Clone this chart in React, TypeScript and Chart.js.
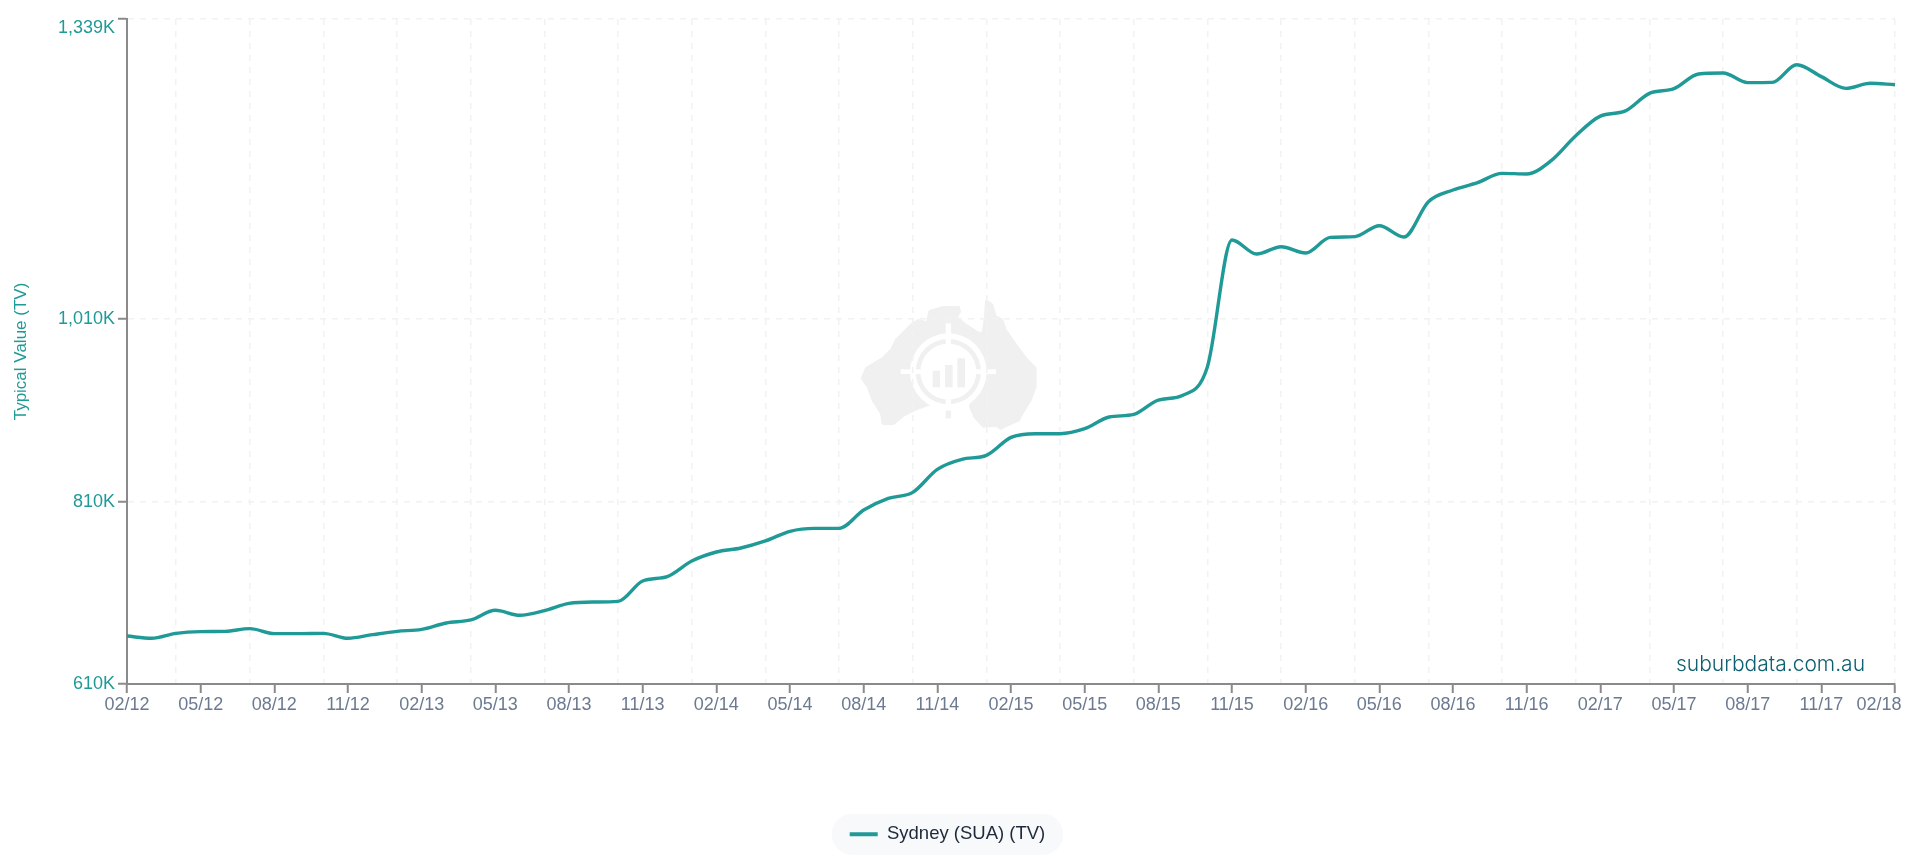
import React, { useEffect, useRef } from "react";
import { Chart, registerables } from "chart.js";

Chart.register(...registerables);

const months = [
  "02/12","03/12","04/12","05/12","06/12","07/12","08/12","09/12","10/12","11/12","12/12","01/13",
  "02/13","03/13","04/13","05/13","06/13","07/13","08/13","09/13","10/13","11/13","12/13","01/14",
  "02/14","03/14","04/14","05/14","06/14","07/14","08/14","09/14","10/14","11/14","12/14","01/15",
  "02/15","03/15","04/15","05/15","06/15","07/15","08/15","09/15","10/15","11/15","12/15","01/16",
  "02/16","03/16","04/16","05/16","06/16","07/16","08/16","09/16","10/16","11/16","12/16","01/17",
  "02/17","03/17","04/17","05/17","06/17","07/17","08/17","09/17","10/17","11/17","12/17","01/18",
  "02/18",
];

const sydneyValues = [
  662.6,660.1,665.5,667.4,667.7,670.7,665.2,665.2,665.5,660.1,664.1,667.7,
  669.9,676.9,680.2,690.8,685.3,690.4,698.4,699.9,700.6,722.9,727.7,744.8,
  754.7,759.1,766.8,777.4,780.6,780.6,800.7,813.5,820.1,845.3,856.3,860.7,
  880.4,884.4,884.4,889.9,902.7,905.6,921.3,926.5,957.9,1096.7,1081.4,1089.4,
  1082.5,1099.6,1100.4,1112.4,1100,1138.7,1151.5,1159.6,1169.8,1169.1,1183.7,1211,
  1232.5,1238,1257.5,1262.6,1278.7,1279.8,1269.2,1269.5,1288.9,1275.8,1263,1268.5,
  1267,
];

const yTickValues = [610, 810, 1010, 1339];
const labelledIndexes = [0,3,6,9,12,15,18,21,24,27,30,33,36,39,42,45,48,51,54,57,60,63,66,69,72];
const gridIndexes = [2,5,8,11,14,17,20,23,26,29,32,35,38,41,44,47,50,53,56,59,62,65,68,72];

const seriesName = "Sydney (SUA) (TV)";
const yTitle = "Typical Value (TV)";
const brandText = "suburbdata.com.au";

const TEAL = "#1f9a97";
const AXIS = "#8a8a8a";
const GRID = "#f1f2f4";
const FONT = '"Liberation Sans", Arial, sans-serif';

const australia: [number, number][] = [
  [270,95],[310,83],[355,83],[358,95],[348,112],[375,135],[415,160],[430,160],[437,110],[440,65],
  [455,75],[465,110],[485,120],[495,150],[530,200],[560,240],[585,265],[585,320],[570,360],[545,400],
  [535,420],[500,435],[482,445],[470,435],[430,438],[405,410],[392,378],[400,360],[345,340],[260,375],
  [230,385],[190,405],[160,430],[130,430],[125,400],[100,360],[85,320],[68,295],[80,265],[130,235],
  [155,210],[170,180],[215,135],[235,122],[262,130],
];

const watermark = {
  id: "watermark",
  beforeDraw(chart: any) {
    const ctx = chart.ctx;
    ctx.save();
    ctx.translate(840, 280);
    ctx.scale(1 / 3, 1 / 3);
    const grey = "#f0f0f1";
    ctx.fillStyle = grey;
    ctx.beginPath();
    australia.forEach(([x, y], i) => (i ? ctx.lineTo(x, y) : ctx.moveTo(x, y)));
    ctx.closePath();
    ctx.lineJoin = "round";
    ctx.strokeStyle = grey;
    ctx.lineWidth = 10;
    ctx.fill();
    ctx.stroke();
    const cx = 325, cy = 275;
    ctx.fillStyle = "#ffffff";
    ctx.beginPath();
    ctx.arc(cx, cy, 115, 0, Math.PI * 2);
    ctx.fill();
    ctx.fillStyle = grey;
    ctx.beginPath();
    ctx.arc(cx, cy, 98, 0, Math.PI * 2);
    ctx.fill();
    ctx.fillStyle = "#ffffff";
    ctx.beginPath();
    ctx.arc(cx, cy, 84, 0, Math.PI * 2);
    ctx.fill();
    ctx.fillRect(182, cy - 7, 62, 14);
    ctx.fillRect(406, cy - 7, 62, 14);
    ctx.fillRect(cx - 8, 130, 16, 62);
    ctx.fillRect(cx - 8, 358, 16, 34);
    ctx.fillStyle = grey;
    ctx.fillRect(cx - 8, 392, 16, 23);
    ctx.fillRect(278, 272, 22, 50);
    ctx.fillRect(315, 255, 23, 67);
    ctx.fillRect(352, 235, 23, 87);
    ctx.restore();

    // legend pill behind the legend entry
    const hb = chart.legend?.legendHitBoxes?.[0];
    if (hb) {
      ctx.save();
      ctx.fillStyle = "#f8f9fb";
      ctx.beginPath();
      const midY = hb.top + hb.height / 2;
      ctx.roundRect(hb.left - 18, midY - 20.5, hb.width + 36, 41, 20.5);
      ctx.fill();
      ctx.restore();
    }

    // first and last labels are pulled back inside the plot edge
    const shift = (scale: any, label: string, dx: number, dy: number) => {
      const items = scale.getLabelItems();
      if (items.__shifted === undefined) items.__shifted = {};
      if (items.__shifted[label]) return;
      items.__shifted[label] = true;
      items.forEach((it: any) => {
        if (it.label === label) {
          it.options.translation[0] += dx;
          it.options.translation[1] += dy;
        }
      });
    };
    shift(chart.scales.x, months[months.length - 1], -16, 0);
    shift(chart.scales.y, "1,339K", 0, 9);
  },
};

const brand = {
  id: "brand",
  afterDatasetsDraw(chart: any) {
    const ctx = chart.ctx;
    ctx.save();
    ctx.fillStyle = "#0d6070";
    ctx.font = '300 21px Inter, "Open Sans", sans-serif';
    ctx.textAlign = "left";
    ctx.textBaseline = "middle";
    ctx.fillText(brandText, 1676, 665);
    ctx.restore();
  },
};

export default function App() {
  const ref = useRef<HTMLCanvasElement | null>(null);

  useEffect(() => {
    const chart = new Chart(ref.current as HTMLCanvasElement, {
      type: "line",
      data: {
        labels: months,
        datasets: [
          {
            label: seriesName,
            data: sydneyValues,
            borderColor: TEAL,
            backgroundColor: TEAL,
            borderWidth: 3.4,
            pointRadius: 0,
            fill: false,
            cubicInterpolationMode: "monotone",
          },
        ],
      },
      options: {
        responsive: false,
        animation: false,
        devicePixelRatio: 1,
        layout: { padding: { top: 19, right: 25, bottom: 8.5, left: 0 } },
        plugins: {
          tooltip: { enabled: false },
          title: { display: false },
          legend: {
            display: true,
            position: "bottom",
            labels: {
              boxWidth: 28,
              boxHeight: 4,
              padding: 10,
              color: "#1e293b",
              font: { family: FONT, size: 18.5 },
              generateLabels: (c: any) =>
                Chart.defaults.plugins.legend.labels
                  .generateLabels(c)
                  .map((l: any) => ({ ...l, lineWidth: 0, fillStyle: TEAL })),
            },
          },
        },
        scales: {
          x: {
            type: "category",
            afterBuildTicks(scale: any) {
              const all = Array.from(new Set([...labelledIndexes, ...gridIndexes])).sort((a, b) => a - b);
              scale.ticks = all.map((value) => ({ value }));
            },
            afterFit(scale: any) {
              scale.height = 131;
            },
            ticks: {
              autoSkip: false,
              maxRotation: 0,
              minRotation: 0,
              padding: 1,
              color: "#6b7a90",
              font: { family: FONT, size: 18 },
              callback(value: any) {
                return labelledIndexes.includes(value) ? months[value] : "";
              },
            },
            grid: {
              drawOnChartArea: true,
              drawTicks: true,
              tickLength: 9,
              tickWidth: 2,
              lineWidth: 1.5,
              color: (c: any) => (gridIndexes.includes(c.tick?.value) ? GRID : "rgba(0,0,0,0)"),
              tickColor: (c: any) => (labelledIndexes.includes(c.tick?.value) ? AXIS : "rgba(0,0,0,0)"),
            },
            border: { display: true, color: AXIS, width: 2, dash: [6, 6] },
          },
          y: {
            type: "linear",
            min: 610,
            max: 1339,
            afterBuildTicks(scale: any) {
              scale.ticks = yTickValues.map((value) => ({ value }));
            },
            afterFit(scale: any) {
              scale.width = 127;
            },
            title: {
              display: true,
              text: yTitle,
              color: TEAL,
              font: { family: FONT, size: 17, lineHeight: 1.2 },
              padding: { top: 11, bottom: 0 },
            },
            ticks: {
              padding: 3,
              color: TEAL,
              font: { family: FONT, size: 18 },
              callback: (value: any) => Number(value).toLocaleString("en-US") + "K",
            },
            grid: {
              tickLength: 9,
              tickWidth: 2,
              lineWidth: 1.5,
              color: GRID,
              tickColor: AXIS,
            },
            border: { display: true, color: AXIS, width: 2, dash: [6, 6] },
          },
        },
      },
      plugins: [watermark, brand],
    } as any);
    return () => chart.destroy();
  }, []);

  return (
    <div style={{ position: "absolute", left: 0, top: 0, width: 1920, height: 862, background: "#fff" }}>
      <canvas ref={ref} width={1920} height={862} style={{ display: "block", width: 1920, height: 862 }} />
    </div>
  );
}
